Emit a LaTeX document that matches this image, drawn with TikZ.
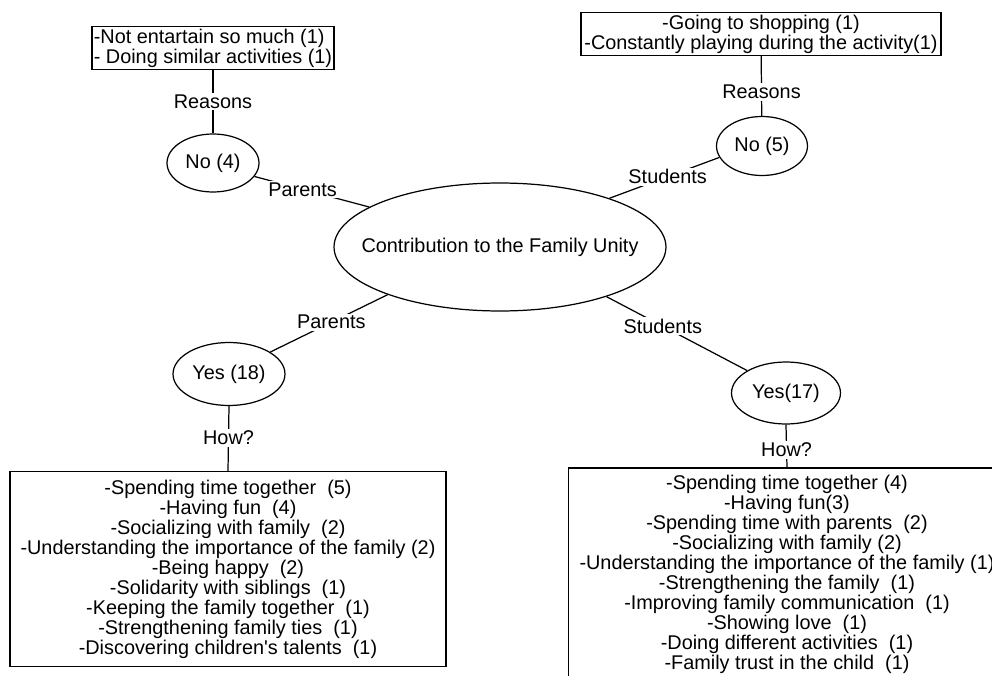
\documentclass[tikz,border=0pt]{standalone}
\usepackage{fontspec}
\setmainfont{Liberation Sans}
\usetikzlibrary{shapes.geometric}

\begin{document}
\begin{tikzpicture}[x=0.02cm,y=-0.02cm,line width=0.7pt,
    font=\fontsize{11.3}{11.4}\selectfont,
    oval/.style={draw,ellipse,inner sep=0pt},
    listbox/.style={draw,rectangle,align=center,inner sep=1pt},
    lab/.style={fill=white,inner sep=1pt}]
    \clip (0,0) rectangle (992,676);
    \node[oval,minimum width=6.64cm,minimum height=2.56cm,label=center:{Contribution to the Family Unity}] (unity) at (500,247) {};
    \node[oval,minimum width=1.84cm,minimum height=1.16cm] (no1) at (213,163) {No (4)};
    \node[oval,minimum width=1.82cm,minimum height=1.18cm] (no2) at (762,146) {No (5)};
    \node[oval,minimum width=2.24cm,minimum height=1.26cm] (yes1) at (229,374) {Yes (18)};
    \node[oval,minimum width=2.18cm,minimum height=1.24cm] (yes2) at (786,393) {Yes(17)};
    \node[listbox,align=left,minimum width=4.84cm,minimum height=0.86cm] (r1) at (213,48) {-Not entartain so much (1)\\- Doing similar activities (1)};
    \node[listbox,minimum width=7.2cm,minimum height=0.86cm] (r2) at (761,34) {-Going to shopping (1)\\-Constantly playing during the activity(1)};
    \node[listbox,minimum width=8.72cm,minimum height=3.9cm] (h1) at (228,569) {-Spending time together~ (5)\\-Having fun~ (4)\\-Socializing with family~ (2)\\-Understanding the importance of the family (2)\\-Being happy~ (2)\\-Solidarity with siblings~ (1)\\-Keeping the family together~ (1)\\-Strengthening family ties~ (1)\\-Discovering children\textquotesingle s talents~ (1)};
    \node[listbox,minimum width=8.74cm,minimum height=4.24cm] (h2) at (787,574) {-Spending time together (4)\\-Having fun(3)\\-Spending time with parents~ (2)\\-Socializing with family (2)\\-Understanding the importance of the family (1)\\-Strengthening the family~ (1)\\-Improving family communication~ (1)\\-Showing love~ (1)\\-Doing different activities~ (1)\\-Family trust in the child~ (1)};
    \draw (r1) -- (no1) node[lab,pos=0.5] {Reasons};
    \draw (r2) -- (no2) node[lab,pos=0.6] {Reasons};
    \draw (no1.-18) -- (unity.163) node[lab,pos=0.42] {Parents};
    \draw (unity.24) -- (no2.195) node[lab,pos=0.53] {Students};
    \draw (unity.203) -- (yes1.28) node[lab,pos=0.48] {Parents};
    \draw (unity.335) -- (yes2.150) node[lab,pos=0.4] {Students};
    \draw (yes1.south) -- (h1.north) node[lab,pos=0.49] {How?};
    \draw (yes2.south) -- (h2.north) node[lab,pos=0.59] {How?};
\end{tikzpicture}
\end{document}
